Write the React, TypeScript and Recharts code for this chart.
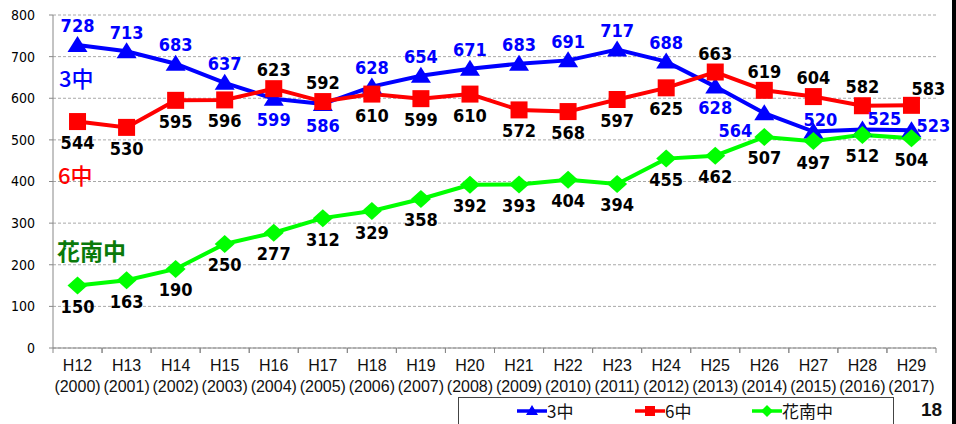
import React from 'react';
import { LineChart, Line, XAxis, YAxis, CartesianGrid, LabelList } from 'recharts';

const eraYears = ['H12', 'H13', 'H14', 'H15', 'H16', 'H17', 'H18', 'H19', 'H20', 'H21', 'H22', 'H23', 'H24', 'H25', 'H26', 'H27', 'H28', 'H29'];
const westernYears = ['2000', '2001', '2002', '2003', '2004', '2005', '2006', '2007', '2008', '2009', '2010', '2011', '2012', '2013', '2014', '2015', '2016', '2017'];
const school3 = [728, 713, 683, 637, 599, 586, 628, 654, 671, 683, 691, 717, 688, 628, 564, 520, 525, 523];
const school6 = [544, 530, 595, 596, 623, 592, 610, 599, 610, 572, 568, 597, 625, 663, 619, 604, 582, 583];
const kanan = [150, 163, 190, 250, 277, 312, 329, 358, 392, 393, 404, 394, 455, 462, 507, 497, 512, 504];
const yTicks = [0, 100, 200, 300, 400, 500, 600, 700, 800];
const seriesNames = ['3中', '6中', '花南中'];
const pageNumber = '18';

// label placement codes per point (style config)
const place3 = ['a', 'a', 'a', 'a', 'b', 'b', 'a', 'a', 'a', 'a', 'a', 'a', 'a', 'b', 'bl', 'an', 'ar', 'r'];
const place6 = ['b', 'b', 'b', 'b', 'a', 'a', 'b', 'b', 'b', 'b', 'b', 'b', 'b', 'a', 'a', 'a', 'a', 'aR'];
const placeK = kanan.map(() => 'b');
const OFFSETS: Record<string, [number, number]> = {
  a: [0, -19],
  b: [0, 21],
  bl: [-29, 17],
  an: [7, -12],
  ar: [22, -11],
  aR: [17, -17],
  r: [22, -5],
};

const BLUE = '#0000FF';
const RED = '#FF0000';
const GREEN = '#00FF00';
const NUM_FONT = '"DejaVu Sans Condensed", "DejaVu Sans", sans-serif';
const AXIS_FONT = '"Liberation Sans", Arial, sans-serif';
const CJK_FONT = '"Noto Sans CJK JP", sans-serif';

const data = eraYears.map((h, i) => ({
  cat: h,
  s3: school3[i],
  s6: school6[i],
  kn: kanan[i],
}));

const PLOT_LEFT = 53;
const PLOT_RIGHT = 936;
const BAND = (PLOT_RIGHT - PLOT_LEFT) / eraYears.length;

const XTick = (props: any) => {
  const { x, y, payload } = props;
  const idx = eraYears.indexOf(payload.value);
  return (
    <g>
      <line x1={x - BAND / 2} y1={y} x2={x - BAND / 2} y2={y + 5} stroke="#888" />
      <line x1={x + BAND / 2} y1={y} x2={x + BAND / 2} y2={y + 5} stroke="#888" />
      <text x={x} y={y + 17} textAnchor="middle" dominantBaseline="central" fontFamily={AXIS_FONT} fontSize={16} fill="#111">
        {payload.value}
      </text>
      <text x={x} y={y + 38} textAnchor="middle" dominantBaseline="central" fontFamily={AXIS_FONT} fontSize={16} fill="#111">
        ({westernYears[idx]})
      </text>
    </g>
  );
};

const makeLabel = (placements: string[], color: string) => (props: any) => {
  const { x, y, value, index } = props;
  const [dx, dy] = OFFSETS[placements[index]] || [0, -19];
  return (
    <text
      key={`lbl-${color}-${index}`}
      x={x + dx}
      y={y + dy}
      textAnchor="middle"
      dominantBaseline="central"
      fontFamily={NUM_FONT}
      fontSize={18}
      fontWeight="bold"
      fill={color}
    >
      {value}
    </text>
  );
};

const TriangleDot = (props: any) => {
  const { cx, cy, index } = props;
  return <polygon key={`t-${index}`} points={`${cx},${cy - 9} ${cx - 10},${cy + 7} ${cx + 10},${cy + 7}`} fill={BLUE} />;
};
const SquareDot = (props: any) => {
  const { cx, cy, index } = props;
  return <rect key={`s-${index}`} x={cx - 8.5} y={cy - 8.5} width={17} height={17} fill={RED} />;
};
const DiamondDot = (props: any) => {
  const { cx, cy, index } = props;
  return <polygon key={`d-${index}`} points={`${cx},${cy - 9} ${cx + 10},${cy} ${cx},${cy + 9} ${cx - 10},${cy}`} fill={GREEN} />;
};

const LegendIcon = ({ kind, color }: { kind: string; color: string }) => (
  <svg width={30} height={14} style={{ display: 'block' }}>
    <line x1={0} y1={7} x2={30} y2={7} stroke={color} strokeWidth={3.5} />
    {kind === 'tri' && <polygon points="15,1 9,11 21,11" fill={color} />}
    {kind === 'sq' && <rect x={10} y={2} width={10} height={10} fill={color} />}
    {kind === 'dia' && <polygon points="15,1 21,7 15,13 9,7" fill={color} />}
  </svg>
);

export default function App() {
  return (
    <div style={{ position: 'absolute', left: 0, top: 0, width: 956, height: 424, background: '#fff', overflow: 'hidden' }}>
      <LineChart width={956} height={424} data={data} margin={{ top: 15, right: 20, bottom: 16, left: 0 }}>
        <CartesianGrid vertical={false} strokeDasharray="3 2" stroke="#a8a8a8" />
        <XAxis
          dataKey="cat"
          height={60}
          interval={0}
          padding={{ left: BAND / 2, right: BAND / 2 }}
          tickLine={false}
          tickSize={0}
          tickMargin={0}
          axisLine={{ stroke: '#888' }}
          tick={<XTick />}
        />
        <YAxis
          width={53}
          domain={[0, 800]}
          ticks={yTicks}
          interval={0}
          axisLine={{ stroke: '#888' }}
          tickLine={{ stroke: '#888' }}
          tickSize={4}
          tickMargin={14}
          tick={{ fill: '#000', fontSize: 14, fontFamily: '"DejaVu Sans Condensed", "DejaVu Sans", sans-serif' }}
        />
        <Line dataKey="s3" name={seriesNames[0]} stroke={BLUE} strokeWidth={4} dot={(p: any) => <TriangleDot key={`t-${p.index}`} {...p} />} isAnimationActive={false}>
          <LabelList dataKey="s3" content={makeLabel(place3, BLUE)} />
        </Line>
        <Line dataKey="s6" name={seriesNames[1]} stroke={RED} strokeWidth={4} dot={(p: any) => <SquareDot key={`s-${p.index}`} {...p} />} isAnimationActive={false}>
          <LabelList dataKey="s6" content={makeLabel(place6, '#000')} />
        </Line>
        <Line dataKey="kn" name={seriesNames[2]} stroke={GREEN} strokeWidth={4} dot={(p: any) => <DiamondDot key={`d-${p.index}`} {...p} />} isAnimationActive={false}>
          <LabelList dataKey="kn" content={makeLabel(placeK, '#000')} />
        </Line>
      </LineChart>

      <div style={{ position: 'absolute', left: 59, top: 64, fontFamily: CJK_FONT, fontSize: 22, fontWeight: 500, color: BLUE, lineHeight: '26px' }}>{seriesNames[0]}</div>
      <div style={{ position: 'absolute', left: 58, top: 161, fontFamily: CJK_FONT, fontSize: 22, fontWeight: 500, color: RED, lineHeight: '26px' }}>{seriesNames[1]}</div>
      <div style={{ position: 'absolute', left: 57, top: 237, fontFamily: CJK_FONT, fontSize: 23, fontWeight: 'bold', color: '#0a7a0a', lineHeight: '26px' }}>{seriesNames[2]}</div>

      <div style={{ position: 'absolute', left: 458, top: 397, width: 436, height: 40, border: '1px solid #444', boxSizing: 'border-box', background: '#fff' }} />
      {[
        { name: seriesNames[0], kind: 'tri', color: BLUE, left: 517 },
        { name: seriesNames[1], kind: 'sq', color: RED, left: 635 },
        { name: seriesNames[2], kind: 'dia', color: GREEN, left: 752 },
      ].map((it) => (
        <div key={it.name} style={{ position: 'absolute', left: it.left, top: 402, height: 18, display: 'flex', alignItems: 'center', gap: 0, fontFamily: CJK_FONT, fontSize: 17, color: '#111' }}>
          <LegendIcon kind={it.kind} color={it.color} />
          <span style={{ lineHeight: '18px' }}>{it.name}</span>
        </div>
      ))}

      <div style={{ position: 'absolute', left: 921, top: 399, fontFamily: AXIS_FONT, fontWeight: 'bold', fontSize: 19, lineHeight: '22px', color: '#111' }}>{pageNumber}</div>
      <div style={{ position: 'absolute', left: 952, top: 0, width: 4, height: 424, background: '#000' }} />
    </div>
  );
}
